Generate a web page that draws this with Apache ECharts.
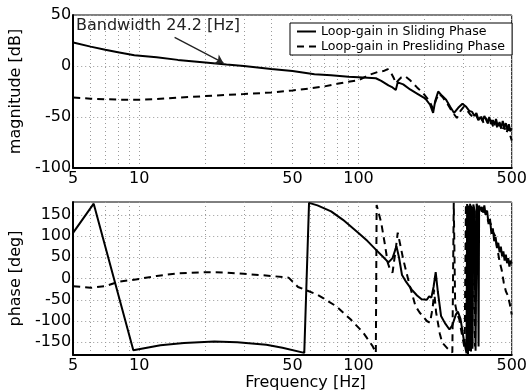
<!DOCTYPE html>
<html>
<head>
<meta charset="utf-8">
<script src="https://cdn.jsdelivr.net/npm/echarts@6/dist/echarts.min.js"></script>
<style>
  html, body { margin: 0; padding: 0; background: #fff; }
  #chart { width: 530px; height: 392px; }
</style>
</head>
<body>
<div id="chart"></div>
<script>
// Frequency tick labels and minor grid positions (Hz)
const freqLabels = [5, 10, 50, 100, 500];
const freqGrid = [5, 6, 7, 8, 9, 10, 20, 30, 40, 50, 60, 70, 80, 90, 100, 200, 300, 400, 500];
const magTicks = [-100, -50, 0, 50];
const phaseTicks = [-150, -100, -50, 0, 50, 100, 150];

const seriesNames = ['Loop-gain in Sliding Phase', 'Loop-gain in Presliding Phase'];

// Loop-gain magnitude, sliding phase
const magSlidingFreq = [5, 6, 7, 8, 9.5, 12, 15, 20, 25, 30, 40, 50, 63, 75, 90, 100, 110, 120, 127, 137, 143, 148, 151, 154, 160, 172, 185, 202, 212, 219, 224, 231, 240, 251, 262, 273, 285, 298, 310, 320, 330, 338, 345, 353, 360, 368, 375, 381, 388, 395, 402, 410, 417, 424, 432, 440, 447, 455, 462, 470, 478, 485, 492, 500];
const magSlidingDb = [23, 19, 16, 13.5, 10.5, 8.5, 6, 3.5, 1.5, 0, -3, -5, -8, -9, -10.5, -11, -11.5, -12, -14.5, -19, -21, -23.5, -16, -15, -18, -23, -27, -32, -38, -46, -34, -25, -29, -33, -40, -46, -41, -37, -40, -44, -45, -49, -46, -53, -50, -54, -49, -52, -56, -50, -57, -53, -58, -52, -59, -55, -61, -54, -60, -56, -63, -57, -64, -61];

// Loop-gain magnitude, presliding phase
const magPreFreq = [5, 6, 8, 10, 12, 15, 20, 30, 40, 50, 60, 70, 80, 90, 100, 111, 124, 130, 136, 141, 145, 148, 152, 157, 163, 172, 185, 198, 210, 219, 226, 233, 243, 256, 268, 281, 292, 302, 312, 322, 332, 342, 352, 362, 372, 382, 392, 402, 412, 422, 432, 442, 452, 462, 472, 482, 492, 500];
const magPreDb = [-31, -32, -33, -33, -32.5, -31, -29.5, -27.5, -26, -24, -22, -20, -17.5, -15.5, -14, -9, -5.5, -5, -3, -7, -12, -17, -14, -11, -10, -14, -21, -27, -34, -42, -33, -27, -31, -38, -45, -51, -44, -40, -43, -47, -50, -47, -53, -49, -56, -51, -57, -53, -60, -55, -62, -57, -64, -59, -66, -61, -68, -73];

// Loop-gain phase, sliding phase
const phSlidingFreq = [5, 6.2, 9.4, 12.5, 16, 22, 28, 38, 45, 56.6, 59.5, 65, 75, 85, 100, 110, 120, 130, 137, 143, 149, 153, 158, 165, 175, 185, 194, 205, 210, 215, 220, 225, 230, 238, 248, 260, 268, 278, 284, 292, 302, 308, 311, 313, 316, 318, 321, 323, 326, 328, 331, 334, 338, 342, 346, 350, 353, 355, 358, 365, 370, 375, 380, 386, 392, 398, 404, 410, 416, 422, 428, 434, 440, 446, 452, 458, 464, 470, 476, 482, 488, 494, 500];
const phSlidingDeg = [108, 176, -169, -157, -152, -148, -150, -156, -163, -175, 178, 172, 158, 138, 107, 88, 68, 50, 38, 48, 76, 50, 8, -8, -26, -40, -49, -50, -42, -45, -20, 15, -30, -88, -105, -120, -110, -85, -78, -95, -143, -165, -176, 175, -178, 172, -170, 176, -172, 168, -165, 174, 160, -170, 176, 165, -160, 172, 162, 168, 155, 172, 150, 160, 128, 140, 105, 118, 88, 98, 72, 84, 62, 75, 52, 64, 42, 56, 36, 48, 28, 42, 35];

// Loop-gain phase, presliding phase
const phPreFreq = [5, 6, 7, 8, 10, 12, 15, 20, 25, 30, 40, 48, 53, 65, 79, 92, 105, 116, 120, 121, 127, 132, 136, 140, 143, 148, 151, 155, 160, 170, 182, 190, 199, 205, 212, 216, 219, 221, 226, 235, 241, 255, 268, 272, 276, 282, 288, 296, 305, 309, 313, 318, 322, 326, 330, 335, 340, 345, 350, 360, 370, 380, 390, 400, 410, 420, 430, 440, 450, 460, 470, 480, 490, 500];
const phPreDeg = [-18, -22, -18, -8, -1, 6, 12, 15, 14, 11, 6, 2, -20, -38, -65, -96, -127, -159, -175, 173, 131, 80, 37, 18, 14, 70, 108, 80, 45, -10, -65, -80, -92, -100, -104, -80, -60, -26, -80, -130, -151, -165, -174, 178, -60, -85, -95, -130, -165, 175, -175, 170, -170, 175, -165, 170, -160, 168, 172, 165, 150, 160, 135, 130, 110, 100, 70, 40, 20, -10, -30, -40, -60, -85];

// Bandwidth marker: the arrow points at this frequency
const bandwidthHz = 24.2;

const zip = (xs, ys) => xs.map((x, i) => [x, ys[i]]);

const FONT = 'DejaVu Sans';
const gridLine = { show: true, lineStyle: { color: '#9a9a9a', type: [1, 3], width: 1 } };

function freqAxis(gridIndex, withName) {
  return {
    type: 'log', logBase: 10, gridIndex, min: 5, max: 500,
    axisLine: { show: true, onZero: false, lineStyle: { color: '#000', width: 2 } },
    axisTick: { show: false, customValues: freqGrid },
    axisLabel: { customValues: freqLabels, color: '#000', fontFamily: FONT, fontSize: 16, margin: 3,
                 formatter: v => String(Math.round(v)) },
    splitLine: gridLine,
    minorTick: { show: false },
    name: withName ? 'Frequency [Hz]' : '',
    nameLocation: 'middle', nameGap: 20,
    nameTextStyle: { color: '#000', fontFamily: FONT, fontSize: 16, verticalAlign: 'top', padding: [0, 0, 0, 26] }
  };
}

function valueAxis(gridIndex, min, max, ticks, name) {
  return {
    type: 'value', gridIndex, min, max,
    axisLine: { show: true, onZero: false, lineStyle: { color: '#000', width: 2 } },
    axisTick: { show: false, customValues: ticks },
    axisLabel: { customValues: ticks, color: '#000', fontFamily: FONT, fontSize: 16, margin: 2 },
    splitLine: gridLine,
    name, nameLocation: 'middle', nameGap: 40,
    nameTextStyle: { color: '#000', fontFamily: FONT, fontSize: 16 }
  };
}

const solid = { color: '#000', width: 2, type: 'solid' };
const dashed = { color: '#000', width: 2, type: [7, 5] };

const chart = echarts.init(document.getElementById('chart'), null, { renderer: 'canvas' });
chart.setOption({
  animation: false,
  backgroundColor: '#fff',
  grid: [
    { left: 68, top: 15, width: 449, height: 153, show: true, borderColor: '#000', borderWidth: 1, backgroundColor: 'transparent' },
    { left: 68, top: 202, width: 449, height: 153, show: true, borderColor: '#000', borderWidth: 1, backgroundColor: 'transparent' }
  ],
  xAxis: [freqAxis(0, false), freqAxis(1, true)],
  yAxis: [
    valueAxis(0, -100, 50, magTicks, 'magnitude [dB]'),
    valueAxis(1, -180, 180, phaseTicks, 'phase [deg]')
  ],
  legend: {
    data: seriesNames,
    orient: 'vertical', left: 290, top: 23,
    backgroundColor: '#fff', borderColor: '#000', borderWidth: 1, borderRadius: 0,
    padding: [2, 7, 2, 6], itemGap: 2, itemWidth: 19, itemHeight: 12,
    itemStyle: { opacity: 0 },
    textStyle: { color: '#000', fontFamily: FONT, fontSize: 12.6 }
  },
  graphic: [
    { type: 'text', left: 76, top: 18, z: 10,
      style: { text: 'Bandwidth 24.2 [Hz]', fill: '#222', font: '16px "DejaVu Sans"' } }
  ],
  series: [
    { name: seriesNames[0], type: 'line', xAxisIndex: 0, yAxisIndex: 0, data: zip(magSlidingFreq, magSlidingDb),
      showSymbol: false, symbol: 'none', lineStyle: solid, itemStyle: { color: '#000' }, clip: true,
      markLine: {
        silent: true, symbol: ['none', 'arrow'], symbolSize: 8,
        lineStyle: { color: '#222', width: 1.3, type: 'solid' }, label: { show: false },
        data: [[{ coord: [14.5, 28] }, { coord: [bandwidthHz, 3] }]]
      } },
    { name: seriesNames[1], type: 'line', xAxisIndex: 0, yAxisIndex: 0, data: zip(magPreFreq, magPreDb),
      showSymbol: false, symbol: 'none', lineStyle: dashed, itemStyle: { color: '#000' }, clip: true },
    { name: seriesNames[0], type: 'line', xAxisIndex: 1, yAxisIndex: 1, data: zip(phSlidingFreq, phSlidingDeg),
      showSymbol: false, symbol: 'none', lineStyle: solid, itemStyle: { color: '#000' }, clip: true },
    { name: seriesNames[1], type: 'line', xAxisIndex: 1, yAxisIndex: 1, data: zip(phPreFreq, phPreDeg),
      showSymbol: false, symbol: 'none', lineStyle: dashed, itemStyle: { color: '#000' }, clip: true }
  ]
});
</script>
</body>
</html>
